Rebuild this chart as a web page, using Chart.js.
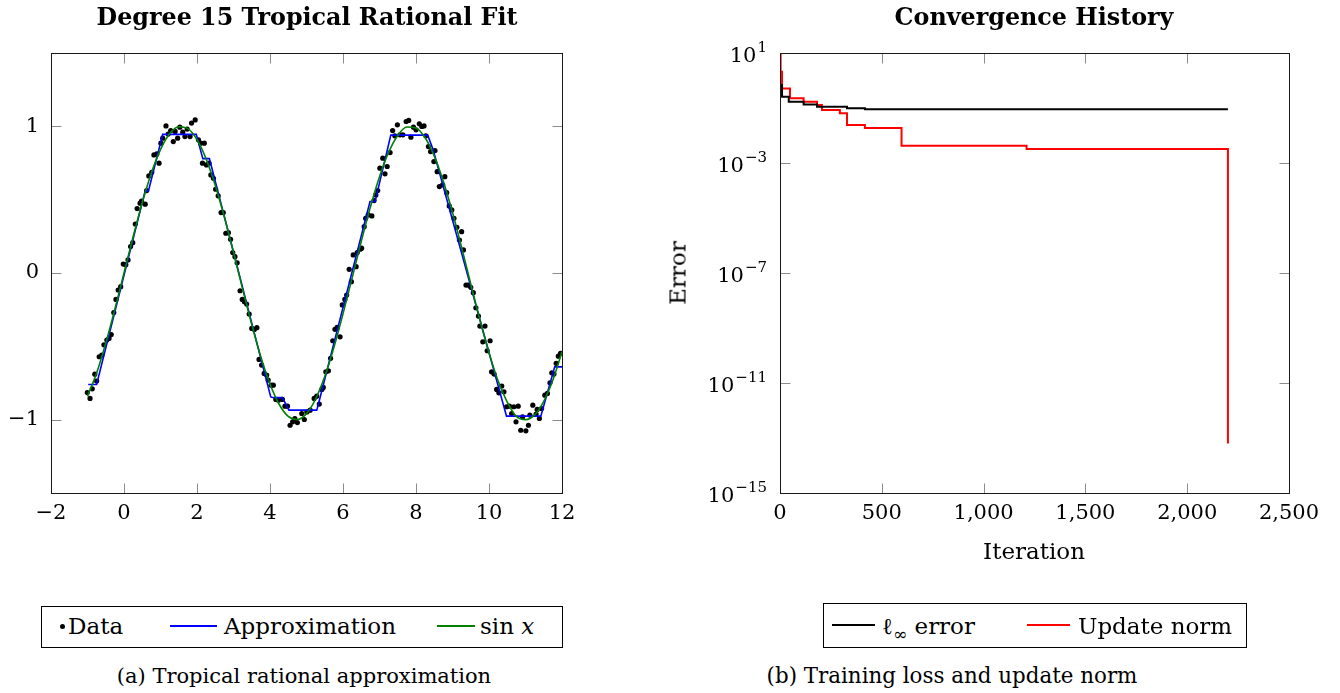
<!DOCTYPE html>
<html>
<head>
<meta charset="utf-8">
<script src="https://cdn.jsdelivr.net/npm/chart.js@4.4.1/dist/chart.umd.min.js"></script>
<style>
  html, body { margin:0; padding:0; background:#fff; }
  body { width:1340px; height:693px; position:relative; overflow:hidden; font-family:'DejaVu Serif', serif; color:#000; }
  canvas { position:absolute; }
  .t { position:absolute; white-space:nowrap; line-height:1; transform:translate(-50%,-50%); }
  .l { position:absolute; white-space:nowrap; line-height:1; transform:translateY(-50%); }
  .box { position:absolute; border:1px solid #000; box-sizing:border-box; }
  .ln { position:absolute; height:2px; }
</style>
</head>
<body>
<canvas id="c1" width="600" height="530" style="left:0;top:0;width:600px;height:530px"></canvas>
<canvas id="c2" width="690" height="540" style="left:650px;top:0;width:690px;height:540px"></canvas>

<div class="t" style="left:307px;top:18px;font-weight:bold;font-size:23.8px">Degree 15 Tropical Rational Fit</div>
<div class="t" style="left:1034px;top:18px;font-weight:bold;font-size:23.8px">Convergence History</div>
<div class="t" style="left:1034px;top:551px;font-size:23px">Iteration</div>
<div class="t" style="left:678px;top:273px;font-size:23px;transform:translate(-50%,-50%) rotate(-90deg)">Error</div>

<!-- legend (a) -->
<div class="box" style="left:41px;top:606px;width:522px;height:42px"></div>
<div style="position:absolute;left:60px;top:624px;width:5px;height:5px;border-radius:50%;background:#000"></div>
<div class="l" style="left:68px;top:626px;font-size:23px">Data</div>
<div class="ln" style="left:170px;top:625px;width:47px;background:#0000ff"></div>
<div class="l" style="left:224px;top:626px;font-size:23px">Approximation</div>
<div class="ln" style="left:437px;top:625px;width:38px;background:#008000"></div>
<div class="l" style="left:480px;top:626px;font-size:23px">sin <i>x</i></div>

<!-- legend (b) -->
<div class="box" style="left:823px;top:603px;width:424px;height:45px"></div>
<div class="ln" style="left:832px;top:624px;width:43px;background:#000"></div>
<div class="l" style="left:882px;top:626px;font-size:23px">ℓ<span style="font-size:17px;position:relative;top:6px">∞</span> error</div>
<div class="ln" style="left:1027px;top:624px;width:43px;background:#ff0000"></div>
<div class="l" style="left:1078px;top:626px;font-size:23px">Update norm</div>

<div class="t" style="left:304px;top:676px;font-size:21px">(a) Tropical rational approximation</div>
<div class="t" style="left:952px;top:676px;font-size:21.4px">(b) Training loss and update norm</div>

<script>
// ---------- Left chart data ----------
const dataX = [-1.005,-0.93,-0.87,-0.80,-0.75,-0.68,-0.61,-0.55,-0.47,-0.41,-0.35,-0.28,-0.22,-0.16,-0.09,-0.02,0.05,0.11,0.18,0.24,0.31,0.36,0.44,0.48,0.58,0.62,0.68,0.76,0.82,0.90,0.96,1.01,1.06,1.15,1.21,1.28,1.35,1.40,1.47,1.53,1.61,1.67,1.73,1.81,1.85,1.95,2.04,2.10,2.15,
2.20,2.26,2.33,2.38,2.45,2.51,2.58,2.66,2.72,2.79,2.86,2.92,2.98,3.04,3.10,3.18,3.24,3.30,3.36,3.43,3.50,3.57,3.64,3.70,3.77,3.84,3.91,3.95,4.03,4.09,4.16,4.23,4.34,4.41,4.48,4.55,4.62,4.68,4.75,4.87,4.94,5.01,5.10,5.21,5.28,
5.35,5.42,5.46,5.53,5.60,5.66,5.72,5.78,5.84,5.92,5.98,6.05,6.10,6.17,6.23,6.28,6.36,6.39,6.47,6.51,6.58,6.62,6.69,6.79,6.85,6.90,6.95,7.01,7.09,7.15,7.21,7.29,7.36,7.42,7.49,7.56,7.64,7.73,7.80,7.86,7.93,8.00,8.09,8.16,8.22,8.27,8.34,8.40,8.49,8.58,8.64,
8.52,8.73,8.79,8.84,8.91,8.98,9.04,9.12,9.19,9.25,9.30,9.37,9.43,9.50,9.57,9.64,9.71,9.75,9.83,9.89,9.95,10.03,10.07,10.14,10.21,10.27,10.35,10.41,10.48,10.56,10.62,10.68,10.74,10.80,10.87,10.92,11.01,11.08,11.12,11.20,11.29,11.32,11.38,11.44,11.53,11.60,11.67,11.72,11.78,11.84,11.90,11.96];
const dataY = [-0.815,-0.855,-0.79,-0.69,-0.737,-0.571,-0.56,-0.49,-0.457,-0.446,-0.42,-0.27,-0.18,-0.116,-0.093,0.061,0.057,0.089,0.18,0.207,0.334,0.439,0.476,0.491,0.469,0.562,0.662,0.687,0.805,0.812,0.749,0.885,0.919,1.003,0.947,0.971,0.896,0.965,0.919,0.994,0.96,0.93,0.981,0.93,1.022,1.044,0.908,0.885,0.749,
0.885,0.737,0.749,0.669,0.646,0.571,0.526,0.412,0.412,0.271,0.275,0.23,0.139,0.111,0.07,-0.121,-0.18,-0.196,-0.212,-0.28,-0.378,-0.385,-0.373,-0.589,-0.628,-0.685,-0.696,-0.73,-0.765,-0.765,-0.862,-0.867,-0.862,-0.908,-0.908,-1.038,-1.015,-0.992,-1.02,-0.958,-0.999,-0.947,-0.935,-0.855,-0.84,
-0.894,-0.794,-0.78,-0.674,-0.667,-0.582,-0.462,-0.384,-0.371,-0.435,-0.218,-0.18,-0.15,0.025,-0.059,0.123,0.043,0.139,0.162,0.169,0.316,0.373,0.396,0.389,0.494,0.532,0.562,0.715,0.783,0.676,0.726,0.821,0.971,0.935,1.01,0.942,0.942,1.033,1.04,0.926,0.994,0.976,1.017,0.999,1.003,0.935,0.862,0.828,0.76,0.691,0.589,
0.835,0.601,0.657,0.548,0.457,0.43,0.373,0.312,0.225,0.282,0.157,-0.082,-0.082,-0.098,-0.134,-0.237,-0.294,-0.362,-0.469,-0.362,-0.53,-0.462,-0.674,-0.689,-0.794,-0.817,-0.771,-0.81,-0.912,-0.908,-0.958,-0.912,-1.015,-0.908,-1.072,-0.981,-1.076,-1.038,-0.969,-0.901,-0.962,-0.93,-0.992,-0.924,-0.833,-0.821,-0.749,-0.68,-0.689,-0.616,-0.567,-0.548];

const approxX = [-0.98,-0.75,0.58,0.67,1.06,1.98,2.16,2.34,4.02,4.10,4.34,4.52,5.28,5.32,6.74,6.88,7.31,8.32,8.47,10.48,11.42,11.80,12.0];
const approxY = [-0.76,-0.76,0.56,0.56,0.945,0.945,0.78,0.78,-0.845,-0.85,-0.85,-0.935,-0.935,-0.90,0.487,0.487,0.94,0.94,0.84,-0.976,-0.976,-0.64,-0.64];

const sinX = [-1,-0.75,-0.5,-0.25,0,0.25,0.5,0.75,1,1.25,1.5,1.75,2,2.25,2.5,2.75,3,3.25,3.5,3.75,4,4.25,4.5,4.75,5,5.25,5.5,5.75,6,6.25,6.5,6.75,7,7.25,7.5,7.75,8,8.25,8.5,8.75,9,9.25,9.5,9.75,10,10.25,10.5,10.75,11,11.25,11.5,11.75,12];
const sinY = [-0.841,-0.682,-0.479,-0.247,0,0.247,0.479,0.682,0.841,0.949,0.997,0.984,0.909,0.778,0.598,0.382,0.141,-0.108,-0.351,-0.572,-0.757,-0.895,-0.978,-0.999,-0.959,-0.859,-0.706,-0.508,-0.279,-0.033,0.215,0.450,0.657,0.823,0.938,0.995,0.989,0.922,0.798,0.624,0.412,0.174,-0.075,-0.319,-0.544,-0.737,-0.880,-0.978,-1.000,-0.967,-0.875,-0.729,-0.537];

const leftXTicks = [-2,0,2,4,6,8,10,12];
const leftYTicks = [-1,0,1];

// ---------- Right chart data ----------
const errIter = [0,10,43,116,182,329,417,2200];
const errVals = [0.69,0.257,0.17,0.135,0.112,0.098,0.091,0.091];
const updIter = [0,3,10,49,116,182,206,294,329,417,597,1211,2200,2200];
const updVals = [10,2.1,0.51,0.224,0.17,0.129,0.085,0.065,0.024,0.0186,0.0042,0.0032,0.0032,6.3e-14];

const rightXTicks = [0,500,1000,1500,2000,2500];
const rightYExps = [1,-3,-7,-11,-15];

// ---------- helpers ----------
Chart.defaults.font.family = "'DejaVu Serif', serif";
Chart.defaults.color = '#000';
const TICKFONT = {family:"'DejaVu Serif', serif", size:21};
const minus = v => String(v).replace('-', '\u2212');
const pts = (xs, ys) => xs.map((x,i)=>({x, y: ys[i]}));

function line(ctx,x1,y1,x2,y2){ctx.beginPath();ctx.moveTo(x1,y1);ctx.lineTo(x2,y2);ctx.stroke();}

const framePlugin = {
  id:'frame',
  afterDatasetsDraw(chart){
    const {ctx, chartArea:a, scales:{x,y}} = chart;
    const L=Math.round(a.left)+0.5, R=Math.round(a.right)+0.5, T=Math.round(a.top)+0.5, B=Math.round(a.bottom)+0.5;
    ctx.save();
    ctx.strokeStyle='#8c8c8c'; ctx.lineWidth=1;
    const TL=10;
    x.ticks.forEach(t=>{const p=Math.round(x.getPixelForValue(t.value))+0.5; line(ctx,p,B,p,B-TL); line(ctx,p,T,p,T+TL);});
    y.ticks.forEach(t=>{const p=Math.round(y.getPixelForValue(t.value))+0.5; line(ctx,L,p,L+TL,p); line(ctx,R,p,R-TL,p);});
    ctx.strokeStyle='#1a1a1a';
    ctx.strokeRect(L,T,R-L,B-T);
    ctx.restore();
  }
};

const expLabelPlugin = {
  id:'explabels',
  afterDraw(chart){
    const {ctx, chartArea:a, scales:{y}} = chart;
    ctx.save();
    ctx.fillStyle='#000';
    ctx.textBaseline='alphabetic';
    rightYExps.forEach(e=>{
      const py = y.getPixelForValue(Math.pow(10,e));
      const es = minus(e);
      ctx.font = "15px 'DejaVu Serif'";
      const we = ctx.measureText(es).width;
      ctx.font = "21px 'DejaVu Serif'";
      const wb = ctx.measureText('10').width;
      const xr = a.left - 13;
      ctx.fillText('10', xr - we - wb - 1, py + 9);
      ctx.font = "15px 'DejaVu Serif'";
      ctx.fillText(es, xr - we, py - 1);
    });
    ctx.restore();
  }
};

// ---------- Left chart ----------
new Chart(document.getElementById('c1'), {
  type:'scatter',
  data:{datasets:[
    {label:'sin x', data:pts(sinX,sinY), showLine:true, borderColor:'#008000', borderWidth:1.6, pointRadius:0, tension:0.4, cubicInterpolationMode:'monotone', order:0},
    {label:'Approximation', data:pts(approxX,approxY), showLine:true, borderColor:'#0000ff', borderWidth:1.6, pointRadius:0, tension:0, order:1},
    {label:'Data', data:pts(dataX,dataY), showLine:false, pointRadius:2.6, pointBackgroundColor:'#000', pointBorderColor:'#000', pointBorderWidth:0, order:2}
  ]},
  options:{
    responsive:false, animation:false, devicePixelRatio:1,
    layout:{padding:{left:0, top:53, right:38, bottom:0}},
    plugins:{legend:{display:false}, tooltip:{enabled:false}, title:{display:false}},
    scales:{
      x:{type:'linear', min:-2, max:12,
         grid:{display:false, drawTicks:false}, border:{display:false},
         afterBuildTicks:s=>{s.ticks = leftXTicks.map(v=>({value:v}));},
         afterFit:s=>{s.height=37;},
         ticks:{font:TICKFONT, color:'#000', padding:8, maxRotation:0, autoSkip:false, callback:v=>minus(v)}},
      y:{type:'linear', min:-1.5, max:1.5,
         grid:{display:false, drawTicks:false}, border:{display:false},
         afterBuildTicks:s=>{s.ticks = leftYTicks.map(v=>({value:v}));},
         afterFit:s=>{s.width=51;},
         ticks:{font:TICKFONT, color:'#000', padding:12, autoSkip:false, callback:v=>minus(v)}}
    }
  },
  plugins:[framePlugin]
});

// ---------- Right chart ----------
new Chart(document.getElementById('c2'), {
  type:'scatter',
  data:{datasets:[
    {label:'\u2113\u221e error', data:pts(errIter,errVals), showLine:true, stepped:'before', borderColor:'#000', borderWidth:2, pointRadius:0, order:0},
    {label:'Update norm', data:pts(updIter,updVals), showLine:true, stepped:'before', borderColor:'#ff0000', borderWidth:2, pointRadius:0, order:1}
  ]},
  options:{
    responsive:false, animation:false, devicePixelRatio:1,
    layout:{padding:{left:0, top:53, right:51, bottom:0}},
    plugins:{legend:{display:false}, tooltip:{enabled:false}, title:{display:false}},
    scales:{
      x:{type:'linear', min:0, max:2500,
         grid:{display:false, drawTicks:false}, border:{display:false},
         afterBuildTicks:s=>{s.ticks = rightXTicks.map(v=>({value:v}));},
         afterFit:s=>{s.height=47;},
         ticks:{font:TICKFONT, color:'#000', padding:8, maxRotation:0, autoSkip:false, callback:v=>v.toLocaleString('en-US')}},
      y:{type:'logarithmic', min:1e-15, max:10,
         grid:{display:false, drawTicks:false}, border:{display:false},
         afterBuildTicks:s=>{s.ticks = rightYExps.map(e=>({value:Math.pow(10,e)}));},
         afterFit:s=>{s.width=130;},
         ticks:{display:false}}
    }
  },
  plugins:[framePlugin, expLabelPlugin]
});
</script>
</body>
</html>
